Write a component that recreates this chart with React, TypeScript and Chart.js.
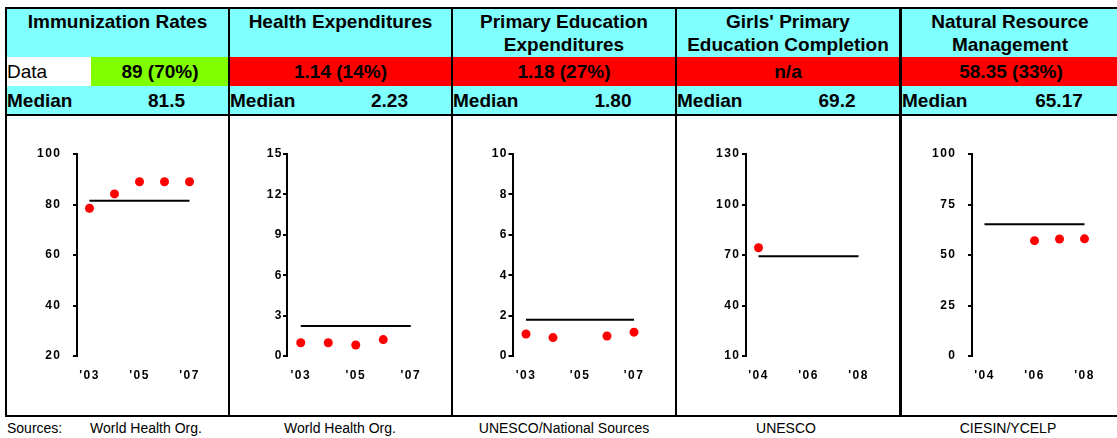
import React, { useEffect, useRef } from "react";
import { Chart, registerables } from "chart.js";

Chart.register(...registerables);

// ---------- data ----------
const titles = [
  ["Immunization Rates"],
  ["Health Expenditures"],
  ["Primary Education", "Expenditures"],
  ["Girls' Primary", "Education Completion"],
  ["Natural Resource", "Management"],
];
const dataTexts = ["89 (70%)", "1.14 (14%)", "1.18 (27%)", "n/a", "58.35 (33%)"];
const dataStatus = ["good", "bad", "bad", "bad", "bad"];
const medianTexts = ["81.5", "2.23", "1.80", "69.2", "65.17"];
const sources = ["World Health Org.", "World Health Org.", "UNESCO/National Sources", "UNESCO", "CIESIN/YCELP"];

const years0307 = ["'03", "'04", "'05", "'06", "'07"];
const years0408 = ["'04", "'05", "'06", "'07", "'08"];

const immunization = [78.5, 84.2, 89, 89, 89];
const healthExpenditures = [0.98, 0.98, 0.82, 1.22, null];
const primaryEducation = [1.09, 0.91, null, 0.99, 1.18];
const girlsCompletion = [74.3, null, null, null, null];
const naturalResource = [null, null, 57.1, 57.9, 58.0];

const medians = [81.5, 2.23, 1.8, 69.2, 65.17];
const yMin = [20, 0, 0, 10, 0];
const yMax = [100, 15, 10, 130, 100];
const yStep = [20, 3, 2, 30, 25];

const seriesList = [immunization, healthExpenditures, primaryEducation, girlsCompletion, naturalResource];
const yearList = [years0307, years0307, years0307, years0408, years0408];

// ---------- layout (styles only) ----------
const FONT = "'Liberation Sans', Arial, Helvetica, sans-serif";
const CYAN = "#80FFFF";
const statusColor: Record<string, string> = { good: "#80FF00", bad: "#FF0000" };
const LETTER_SP = 1.5;

const panelL = [7, 230, 453, 677, 902];
const panelR = [228, 451, 675, 899, 1120];
const panelC = [117.5, 340.5, 564, 788, 1010];
const seps = [
  { x: 228, w: 2 },
  { x: 451, w: 2 },
  { x: 675, w: 2 },
  { x: 899, w: 3 },
];
const canvasGeo = [
  { left: 7, width: 220, axisW: 70, padR: 25, tickPad: 13 },
  { left: 229, width: 222, axisW: 58, padR: 26.5, tickPad: 1 },
  { left: 453, width: 221, axisW: 59.5, padR: 26.5, tickPad: 2 },
  { left: 677, width: 221, axisW: 69, padR: 27, tickPad: 3 },
  { left: 902, width: 215, axisW: 70, padR: 20, tickPad: 13 },
];
const CANVAS_TOP = 117;
const CANVAS_H = 298;

const spacingPlugin = {
  id: "letterSpacing",
  beforeDraw(chart: any) {
    (chart.ctx as any).letterSpacing = LETTER_SP + "px";
  },
  afterDraw(chart: any) {
    (chart.ctx as any).letterSpacing = "0px";
  },
};

function MiniChart({ idx }: { idx: number }) {
  const ref = useRef<HTMLCanvasElement>(null);
  useEffect(() => {
    const g = canvasGeo[idx];
    const labels = yearList[idx];
    const chart = new Chart(ref.current as HTMLCanvasElement, {
      type: "line",
      plugins: [spacingPlugin],
      data: {
        labels,
        datasets: [
          {
            data: labels.map(() => medians[idx]),
            borderColor: "#000000",
            backgroundColor: "#000000",
            borderWidth: 2,
            pointRadius: 0,
            fill: false,
            order: 2,
          },
          {
            data: seriesList[idx] as any,
            showLine: false,
            pointRadius: 4.5,
            pointHoverRadius: 4.5,
            pointBorderWidth: 0,
            pointBackgroundColor: "#FF0000",
            borderColor: "#FF0000",
            backgroundColor: "#FF0000",
            order: 1,
          },
        ],
      },
      options: {
        animation: false,
        responsive: false,
        maintainAspectRatio: false,
        events: [],
        layout: { padding: { top: 37, right: g.padR, bottom: 0, left: 0 } },
        plugins: { legend: { display: false }, tooltip: { enabled: false } },
        scales: {
          x: {
            type: "category",
            offset: true,
            grid: { display: false, drawTicks: false },
            border: { display: false },
            ticks: {
              autoSkip: false,
              maxRotation: 0,
              padding: 12,
              color: "#000000",
              font: { family: FONT, size: 12, weight: "bold" },
              callback: (_v: any, i: number) => (i % 2 === 0 ? labels[i] : ""),
            },
            afterFit: (s: any) => {
              s.height = 59;
            },
          },
          y: {
            min: yMin[idx],
            max: yMax[idx],
            ticks: {
              stepSize: yStep[idx],
              padding: Math.max(0, g.tickPad - LETTER_SP),
              color: "#000000",
              font: { family: FONT, size: 12, weight: "bold" },
            },
            grid: {
              drawOnChartArea: false,
              drawTicks: true,
              tickLength: 4,
              color: "#000000",
              tickColor: "#000000",
              lineWidth: 2,
            },
            border: { display: true, color: "#000000", width: 2 },
            afterFit: (s: any) => {
              s.width = g.axisW;
            },
          },
        },
      } as any,
    });
    return () => chart.destroy();
  }, [idx]);
  const g = canvasGeo[idx];
  return (
    <canvas
      ref={ref}
      width={g.width}
      height={CANVAS_H}
      style={{ position: "absolute", left: g.left, top: CANVAS_TOP, width: g.width, height: CANVAS_H }}
    />
  );
}

export default function App() {
  const abs = (s: React.CSSProperties): React.CSSProperties => ({ position: "absolute", ...s });
  return (
    <div
      style={{
        position: "absolute",
        left: 0,
        top: 0,
        width: 1117,
        height: 438,
        overflow: "hidden",
        background: "#FFFFFF",
        fontFamily: FONT,
        color: "#000",
      }}
    >
      <div style={abs({ left: 7, top: 9, width: 1110, height: 105, background: CYAN })} />

      {titles.map((t, i) => (
        <div
          key={"t" + i}
          style={abs({
            left: panelC[i] - 115,
            width: 230,
            top: 10,
            textAlign: "center",
            fontWeight: "bold",
            fontSize: 19,
            lineHeight: "23px",
          })}
        >
          {t.map((line, j) => (
            <div key={j}>{line}</div>
          ))}
        </div>
      ))}

      {dataTexts.map((d, i) => {
        const left = i === 0 ? 91 : panelL[i] - 1;
        const right = panelR[i] + 1;
        return (
          <div
            key={"d" + i}
            style={abs({
              left,
              width: right - left,
              top: 57,
              height: 29,
              lineHeight: "29px",
              background: statusColor[dataStatus[i]],
              textAlign: "center",
              fontWeight: "bold",
              fontSize: 19,
            })}
          >
            {d}
          </div>
        );
      })}
      <div style={abs({ left: 7, width: 84, top: 57, height: 29, lineHeight: "29px", background: "#FFFFFF", fontSize: 19 })}>
        Data
      </div>

      {medianTexts.map((m, i) => (
        <React.Fragment key={"m" + i}>
          <div style={abs({ left: panelL[i], top: 86, height: 29, lineHeight: "29px", fontWeight: "bold", fontSize: 19 })}>
            Median
          </div>
          <div
            style={abs({
              left: panelC[i] + 49 - 50,
              width: 100,
              top: 86,
              height: 29,
              lineHeight: "29px",
              textAlign: "center",
              fontWeight: "bold",
              fontSize: 19,
            })}
          >
            {m}
          </div>
        </React.Fragment>
      ))}

      {[0, 1, 2, 3, 4].map((i) => (
        <MiniChart key={"c" + i} idx={i} />
      ))}

      <div style={abs({ left: 5, top: 7, width: 1112, height: 2, background: "#000" })} />
      <div style={abs({ left: 5, top: 114, width: 1112, height: 2, background: "#000" })} />
      <div style={abs({ left: 5, top: 415, width: 1112, height: 2, background: "#000" })} />
      <div style={abs({ left: 5, top: 7, width: 2, height: 410, background: "#000" })} />
      {seps.map((s, i) => (
        <div key={"s" + i} style={abs({ left: s.x, top: 7, width: s.w, height: 410, background: "#000" })} />
      ))}

      <div style={abs({ left: 7, top: 420, height: 16, lineHeight: "16px", fontSize: 14 })}>Sources:</div>
      {sources.map((s, i) => {
        const c = i === 0 ? 146 : [340, 564, 786, 1008][i - 1];
        return (
          <div
            key={"src" + i}
            style={abs({ left: c - 110, width: 220, top: 420, height: 16, lineHeight: "16px", fontSize: 14, textAlign: "center", whiteSpace: "nowrap" })}
          >
            {s}
          </div>
        );
      })}
    </div>
  );
}
